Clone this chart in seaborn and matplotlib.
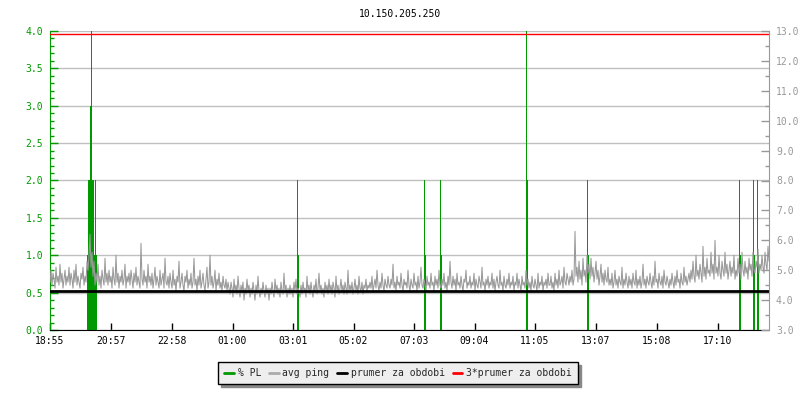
import numpy as np
import pandas as pd
import matplotlib
matplotlib.use("Agg")
import matplotlib.pyplot as plt
from matplotlib.lines import Line2D
import seaborn as sns

# minutes since 18:55, tick labels on the time axis
tick_min = [0, 122, 243, 365, 486, 607, 728, 849, 970, 1092, 1213, 1335]
tick_lbl = ['18:55', '20:57', '22:58', '01:00', '03:01', '05:02', '07:03',
            '09:04', '11:05', '13:07', '15:08', '17:10']

# packet loss samples (minute, %)
pl_min = [73, 75, 77, 79, 81, 83, 85, 87, 89, 91,
          493, 495, 747, 749, 779, 781, 951, 953, 1073, 1075,
          1377, 1379, 1405, 1407, 1413, 1415]
pl_val = [1, 2, 2, 3, 4, 2, 2, 1, 2, 1,
          2, 1, 2, 1, 2, 1, 4, 2, 2, 1,
          2, 1, 2, 1, 2, 1]

# avg ping in ms, one value every 2 minutes (one row = 40 min)
ping_step = 2
ping_ms = [
    4.6, 5.0, 4.5, 4.9, 4.7, 4.4, 5.1, 4.6, 4.8, 4.5, 5.2, 4.6, 4.9, 4.4, 4.7, 5.0, 4.5, 4.8, 4.6, 5.1,
    4.5, 4.9, 4.7, 4.4, 5.0, 4.6, 5.2, 4.5, 4.8, 4.6, 4.4, 4.9, 4.7, 5.1, 4.5, 4.8, 4.6, 5.3, 5.0, 5.5,
    6.2, 5.1, 5.6, 4.8, 5.3, 4.5, 4.9, 4.6, 5.2, 4.5, 4.8, 4.4, 5.0, 4.7, 4.5, 5.4, 4.6, 4.9, 4.5, 5.0,
    4.6, 4.8, 4.4, 5.1, 4.7, 4.5, 5.5, 4.6, 4.9, 4.4, 4.8, 4.6, 5.0, 4.5, 4.7, 5.2, 4.4, 4.8, 4.6, 4.9,
    4.5, 5.0, 4.7, 4.4, 4.9, 4.6, 5.1, 4.5, 4.8, 4.6, 4.4, 5.9, 4.7, 4.5, 5.0, 4.6, 4.8, 4.4, 5.2, 4.6,
    4.8, 4.5, 4.9, 4.4, 4.7, 5.1, 4.5, 4.8, 4.6, 4.4, 5.0, 4.5, 4.7, 4.9, 4.4, 5.4, 4.6, 4.5, 4.8, 4.4,
    4.9, 4.6, 4.4, 5.0, 4.5, 4.7, 4.3, 4.8, 4.6, 5.3, 4.4, 4.6, 4.9, 4.5, 4.3, 4.8, 4.6, 5.0, 4.4, 4.7,
    4.5, 4.9, 4.4, 4.6, 5.4, 4.5, 4.7, 4.3, 4.8, 4.5, 5.0, 4.4, 4.6, 4.9, 4.5, 4.3, 4.7, 5.1, 4.4, 4.6,
    5.5, 4.5, 4.8, 4.4, 4.6, 5.0, 4.3, 4.7, 4.5, 4.9, 4.4, 4.6, 4.3, 4.8, 4.5, 4.4, 4.7, 4.3, 4.6, 4.4,
    4.2, 4.6, 4.4, 4.1, 4.7, 4.3, 4.5, 4.2, 4.8, 4.4, 4.1, 4.5, 4.3, 4.6, 4.0, 4.4, 4.2, 4.7, 4.3, 4.5,
    4.1, 4.4, 4.2, 4.6, 4.3, 4.0, 4.5, 4.2, 4.8, 4.3, 4.1, 4.4, 4.2, 4.6, 4.3, 4.1, 4.5, 4.2, 4.4, 4.0,
    4.4, 4.2, 4.6, 4.3, 4.1, 4.7, 4.3, 4.5, 4.2, 4.4, 4.1, 4.6, 4.3, 4.2, 4.9, 4.3, 4.5, 4.1, 4.4, 4.2,
    4.5, 4.2, 4.4, 4.1, 4.6, 4.3, 4.7, 4.2, 4.4, 4.3, 4.1, 4.5, 4.2, 4.6, 4.3, 4.4, 4.1, 4.8, 4.3, 4.5,
    4.2, 4.6, 4.3, 4.1, 4.5, 4.3, 4.7, 4.2, 4.4, 4.9, 4.3, 4.5, 4.2, 4.4, 4.1, 4.6, 4.3, 4.5, 4.2, 4.7,
    4.3, 4.5, 4.2, 4.6, 4.4, 4.1, 4.8, 4.3, 4.5, 4.2, 4.4, 4.7, 4.3, 4.5, 4.2, 4.6, 4.4, 4.2, 5.0, 4.3,
    4.5, 4.3, 4.6, 4.2, 4.4, 4.7, 4.3, 4.5, 4.2, 4.8, 4.4, 4.3, 4.6, 4.2, 4.5, 4.4, 4.7, 4.3, 4.5, 4.4,
    4.6, 4.4, 4.8, 4.3, 4.5, 4.7, 4.4, 5.0, 4.5, 4.3, 4.6, 4.4, 4.9, 4.5, 4.3, 4.7, 4.5, 4.4, 4.8, 4.5,
    4.4, 4.7, 4.5, 5.2, 4.4, 4.6, 4.3, 4.8, 4.5, 4.6, 4.4, 4.9, 4.5, 4.3, 4.7, 4.5, 4.6, 4.4, 5.0, 4.5,
    4.3, 4.7, 4.5, 4.4, 4.9, 4.5, 4.6, 4.3, 4.8, 4.4, 4.6, 5.1, 4.5, 4.4, 4.7, 4.5, 4.3, 4.8, 4.5, 4.6,
    4.4, 4.9, 4.5, 4.6, 4.3, 4.8, 4.5, 4.7, 4.4, 5.0, 4.5, 4.4, 4.7, 4.5, 4.9, 4.4, 4.6, 4.3, 4.8, 4.5,
    5.3, 4.6, 4.4, 4.8, 4.5, 4.7, 4.3, 4.9, 4.5, 4.6, 4.4, 4.8, 4.5, 4.3, 4.7, 4.6, 5.0, 4.4, 4.6, 4.5,
    4.8, 4.4, 4.6, 4.5, 4.9, 4.3, 4.7, 4.5, 4.4, 4.8, 4.6, 4.4, 5.1, 4.5, 4.6, 4.3, 4.7, 4.5, 4.8, 4.4,
    4.6, 4.5, 4.9, 4.4, 4.7, 4.3, 4.6, 4.8, 4.5, 4.4, 5.0, 4.5, 4.6, 4.3, 4.8, 4.5, 4.4, 4.7, 4.5, 4.9,
    4.4, 4.6, 4.5, 4.8, 4.3, 4.6, 4.5, 4.9, 4.4, 4.7, 4.5, 4.3, 4.8, 4.5, 4.6, 4.4, 5.0, 4.5, 4.7, 4.4,
    4.6, 4.3, 4.8, 4.5, 4.4, 4.7, 4.5, 4.3, 4.9, 4.4, 4.6, 4.5, 4.8, 4.3, 4.6, 4.5, 4.7, 4.4, 4.9, 4.5,
    4.5, 4.8, 4.4, 4.6, 4.3, 4.9, 4.5, 4.7, 4.4, 5.0, 4.5, 4.6, 4.8, 4.4, 5.1, 4.6, 4.5, 4.9, 4.7, 4.5,
    4.8, 4.6, 5.0, 4.5, 4.7, 6.3, 4.8, 5.1, 4.6, 5.3, 4.7, 5.0, 4.5, 5.4, 4.8, 5.0, 4.6, 5.5, 4.9, 5.2,
    4.7, 5.4, 4.8, 5.1, 4.6, 4.9, 5.3, 4.7, 5.0, 4.5, 4.8, 5.2, 4.6, 4.9, 4.5, 5.0, 4.7, 4.6, 5.1, 4.5,
    4.7, 4.5, 4.9, 4.4, 4.6, 5.0, 4.5, 4.7, 4.4, 4.8, 4.6, 4.5, 5.1, 4.4, 4.7, 4.5, 4.9, 4.6, 4.4, 4.8,
    4.5, 4.7, 4.4, 4.9, 4.6, 4.5, 5.0, 4.4, 4.7, 4.5, 4.8, 4.4, 4.6, 5.2, 4.5, 4.7, 4.4, 4.8, 4.6, 4.5,
    4.9, 4.6, 4.4, 4.8, 4.5, 5.3, 4.6, 4.7, 4.4, 4.9, 4.6, 4.5, 4.8, 4.4, 5.0, 4.6, 4.5, 4.8, 4.6, 4.4,
    4.7, 4.5, 4.9, 4.6, 4.4, 4.8, 4.5, 5.0, 4.6, 4.7, 4.4, 4.9, 4.6, 4.5, 5.1, 4.6, 4.8, 4.5, 4.7, 4.9,
    4.6, 5.0, 4.7, 5.3, 4.8, 4.6, 5.5, 4.8, 5.0, 4.7, 5.2, 4.9, 4.6, 5.8, 4.8, 5.1, 4.7, 5.4, 4.9, 5.0,
    4.8, 5.6, 4.9, 5.2, 4.7, 6.0, 4.9, 5.1, 4.8, 5.5, 4.9, 4.7, 5.3, 5.0, 4.8, 5.6, 4.9, 5.2, 4.7, 5.0,
    5.3, 4.8, 5.1, 4.9, 5.5, 4.7, 5.0, 4.8, 5.4, 4.9, 5.2, 4.7, 5.6, 5.0, 4.8, 5.3, 4.9, 5.1, 4.7, 5.4,
    5.0, 5.2, 4.8, 5.6, 5.0, 4.9, 5.3, 5.1, 5.7, 4.9, 5.2, 5.0, 5.5, 5.1, 4.9, 5.6, 5.2, 5.0, 5.8, 5.3,
]
ping_mean = 4.3

green = '#009900'
gray = '#999999'

sns.set_style('white')
plt.rcParams['font.family'] = ['DejaVu Sans Mono']
plt.rcParams['font.size'] = 7

df = pd.DataFrame({'t': np.arange(len(ping_ms)) * ping_step, 'ping': ping_ms})

fig = plt.figure(figsize=(8, 4), dpi=100)
ax = fig.add_axes([50 / 800, 70 / 400, 719 / 800, 299 / 400])
ax.set_facecolor('white')

# packet loss impulses, 1 px each
ax.vlines(pl_min, 0, pl_val, colors=green, linewidth=0.72, antialiased=False, zorder=2)
ax.set_xlim(0, 1438)
ax.set_ylim(0, 4)
ax.set_yticks(np.arange(0, 4.01, 0.5))
ax.set_yticks(np.arange(0, 4.01, 0.1), minor=True)
ax.set_yticklabels([f'{v:.1f}' for v in np.arange(0, 4.01, 0.5)])
ax.yaxis.grid(True, color='#c0c0c0', linewidth=1)
ax.set_axisbelow(True)
ax.tick_params(axis='y', which='major', direction='in', length=6, width=1,
               color=green, labelcolor=green, pad=5, left=True)
ax.tick_params(axis='y', which='minor', direction='in', length=3, width=1,
               color=green, left=True)
ax.set_xticks(tick_min)
ax.set_xticklabels(tick_lbl)
ax.tick_params(axis='x', direction='in', length=5, width=1, color='black',
               labelcolor='black', pad=4, bottom=True)
ax.spines['left'].set_color(green)
ax.spines['bottom'].set_color('black')
ax.spines['top'].set_visible(False)
ax.spines['right'].set_visible(False)

ax2 = ax.twinx()
sns.lineplot(data=df, x='t', y='ping', ax=ax2, color=gray, linewidth=0.75)
ax2.axhline(ping_mean, color='black', linewidth=2)
ax2.axhline(3 * ping_mean, color='red', linewidth=1)
ax2.set_ylim(3, 13)
ax2.set_xlim(0, 1438)
ax2.set_yticks(np.arange(3, 13.01, 1))
ax2.set_yticks(np.arange(3, 13.01, 0.5), minor=True)
ax2.set_yticklabels([f'{v:.1f}' for v in np.arange(3, 13.01, 1)])
ax2.set_ylabel('')
ax2.set_xlabel('')
ax.set_xlabel('')
ax2.tick_params(axis='y', which='major', direction='in', length=6, width=1,
                color=gray, labelcolor=gray, pad=5, right=True)
ax2.tick_params(axis='y', which='minor', direction='in', length=3, width=1,
                color=gray, right=True)
ax2.spines['right'].set_color(gray)
for s in ['left', 'top', 'bottom']:
    ax2.spines[s].set_visible(False)

fig.text(400 / 800, 1 - 14 / 400, '10.150.205.250', ha='center', va='center',
         fontsize=7, color='black')

handles = [Line2D([], [], color=green, lw=2),
           Line2D([], [], color='#aaaaaa', lw=2),
           Line2D([], [], color='black', lw=2),
           Line2D([], [], color='red', lw=2)]
labels = ['% PL', 'avg ping', 'prumer za obdobi', '3*prumer za obdobi']
leg = fig.legend(handles, labels, loc='center', bbox_to_anchor=(398 / 800, 1 - 373 / 400),
                 ncol=4, frameon=True, fancybox=False, shadow={'color': '#888888', 'alpha': 1},
                 handlelength=1.0, handletextpad=0.4, columnspacing=0.8,
                 borderpad=0.6, fontsize=7)
leg.get_frame().set_facecolor('#eeeeee')
leg.get_frame().set_edgecolor('black')
leg.get_frame().set_linewidth(1)

fig.savefig('out.png', dpi=100)
